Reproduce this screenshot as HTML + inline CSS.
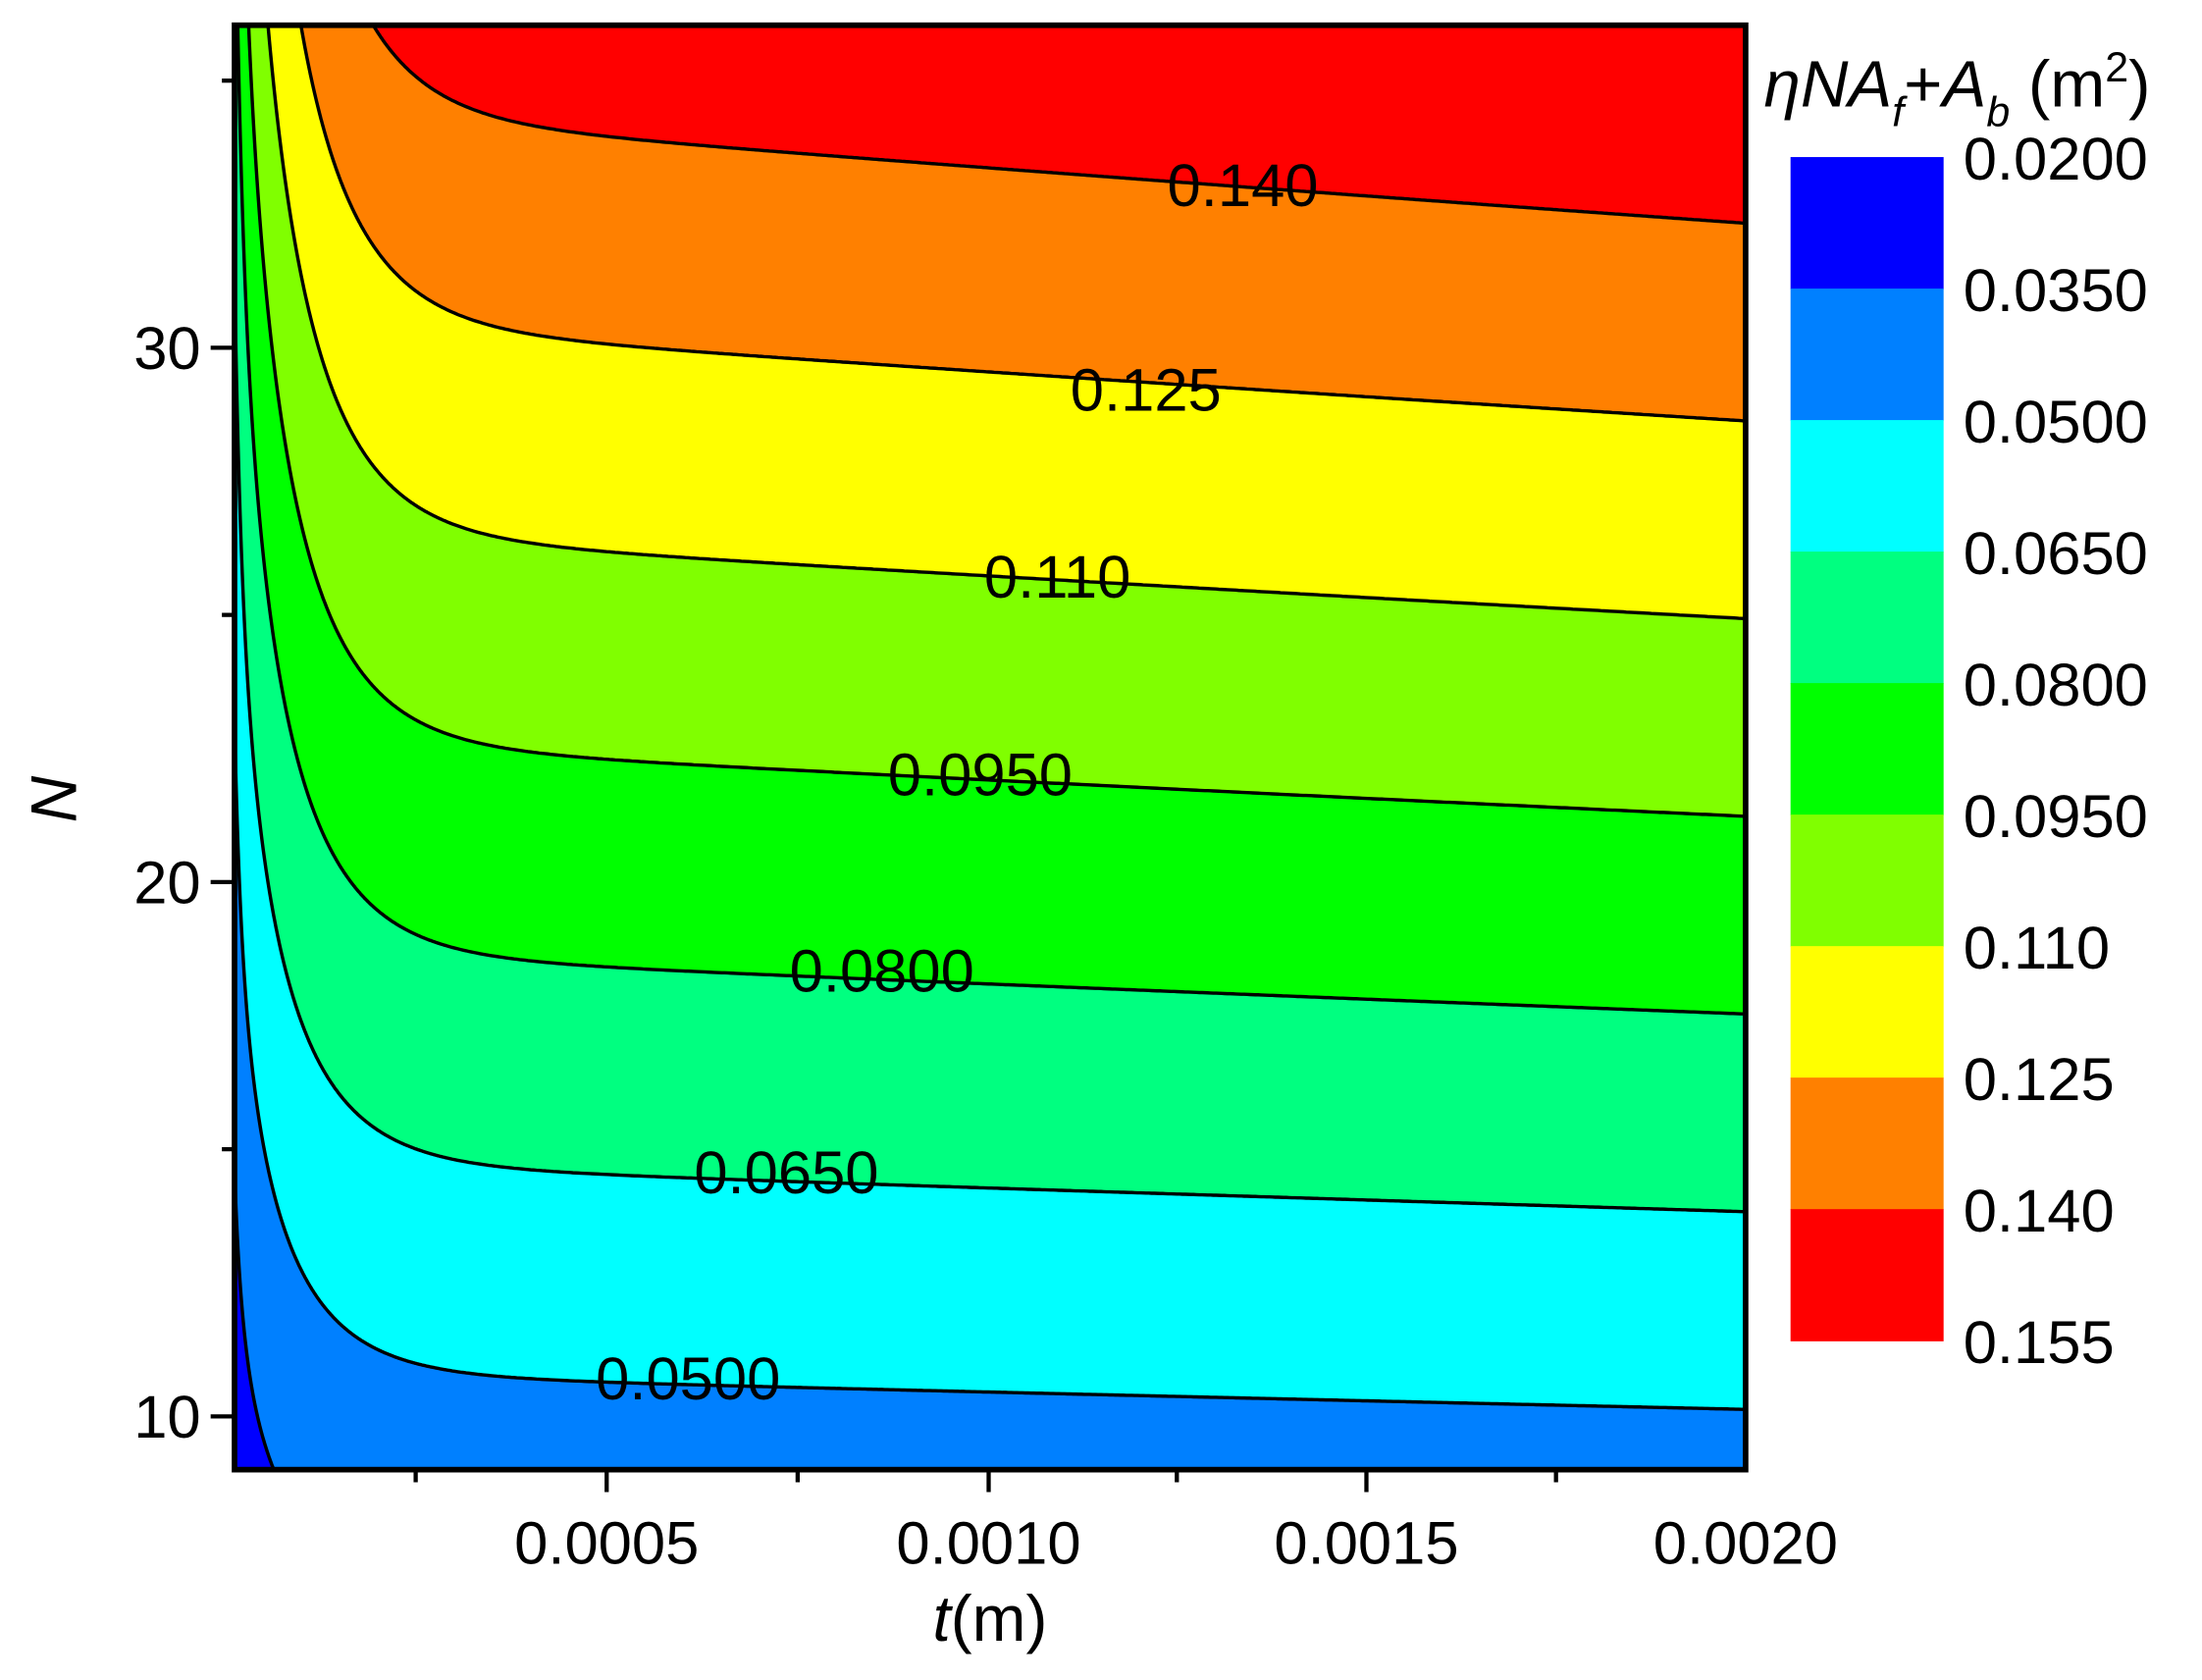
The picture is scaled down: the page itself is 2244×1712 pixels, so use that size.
<!DOCTYPE html>
<html><head><meta charset="utf-8"><style>
html,body{margin:0;padding:0;background:#fff;}
svg{display:block;}
text{font-family:"Liberation Sans",Arial,sans-serif;fill:#000;}
</style></head><body>
<svg id="s" width="2244" height="1712" viewBox="0 0 1568 1198" preserveAspectRatio="none" xmlns="http://www.w3.org/2000/svg">
<defs><clipPath id="cp"><rect x="167" y="18" width="1076" height="1030"/></clipPath></defs>
<g clip-path="url(#cp)"><rect x="167" y="18" width="1076" height="1030" fill="#ff0000"/><g id="fills"></g><g id="lines" fill="none" stroke="#000" stroke-width="2.4"></g></g>
<g id="labels" font-size="43" text-anchor="middle"></g>
<rect x="167" y="18" width="1076" height="1030" fill="none" stroke="#000" stroke-width="4"/>
<g id="ticks" stroke="#000" stroke-width="3"></g>
<g font-size="43" text-anchor="end">
<text x="143" y="1025">10</text><text x="143" y="644">20</text><text x="143" y="263">30</text>
</g>
<g font-size="43" text-anchor="middle">
<text x="432" y="1115">0.0005</text><text x="704" y="1115">0.0010</text><text x="973" y="1115">0.0015</text><text x="1243" y="1115">0.0020</text>
</g>
<text x="705" y="1170" font-size="46" text-anchor="middle"><tspan font-style="italic">t</tspan>(m)</text>
<text transform="translate(54,570) rotate(-90)" font-size="46" font-style="italic" text-anchor="middle">N</text>
<g id="cbar"></g>
<text x="1256" y="76" font-size="47"><tspan font-style="italic">ηNA</tspan><tspan font-style="italic" font-size="30" dy="14">f</tspan><tspan dy="-14">+</tspan><tspan font-style="italic">A</tspan><tspan font-style="italic" font-size="30" dy="14">b</tspan><tspan dy="-14"> (m</tspan><tspan font-size="30" dy="-18">2</tspan><tspan dy="18">)</tspan></text>
</svg>
<script>
(function(){
var NS="http://www.w3.org/2000/svg";
function el(p,n,a,t){var e=document.createElementNS(NS,n);for(var k in a)e.setAttribute(k,a[k]);if(t)e.textContent=t;p.appendChild(e);return e;}
function d(x){var dx=x-167;return 1-0.08*Math.exp(-dx/6)-0.418*Math.exp(-dx/45)-0.062*(1243-x)/1076;}
var G=0.004054,h=0.00893;
function Y(N){return 1010-(N-10)*38.1;}
var levels=[[0.140,"#ff8000"],[0.125,"#ffff00"],[0.110,"#80ff00"],[0.095,"#00ff00"],[0.080,"#00ff80"],[0.065,"#00ffff"],[0.050,"#0080ff"],[0.035,"#0000ff"]];
var fills=document.getElementById("fills"),lines=document.getElementById("lines");
levels.forEach(function(L){
  var pts=[];
  for(var x=167;x<=1243;x+=(x<320?0.5:2)){var N=(L[0]-h)/(G*d(x));var y=Y(N);if(y<-300)y=-300;if(y>1100)y=1100;pts.push(x+","+y.toFixed(1));}
  el(fills,"polygon",{points:pts.join(" ")+" 1243,1100 167,1100",fill:L[1]});
  el(lines,"polyline",{points:pts.join(" ")});
});
var lab=document.getElementById("labels");
[["0.140",885,132],["0.125",816,278],["0.110",753,411],["0.0950",698,552],["0.0800",628,692],["0.0650",560,836],["0.0500",490,983]].forEach(function(a){
  el(lab,"text",{x:a[1],y:a[2]+15},a[0]);
});
var tk=document.getElementById("ticks");
[1010,629,248].forEach(function(y){el(tk,"line",{x1:150,y1:y,x2:167,y2:y});});
[819.5,438.5,57.5].forEach(function(y){el(tk,"line",{x1:158,y1:y,x2:167,y2:y});});
[432,704,973].forEach(function(x){el(tk,"line",{x1:x,y1:1048,x2:x,y2:1064});});
[296,568,838,1108].forEach(function(x){el(tk,"line",{x1:x,y1:1048,x2:x,y2:1057});});
var cb=document.getElementById("cbar");
var cols=["#0000ff","#0080ff","#00ffff","#00ff80","#00ff00","#80ff00","#ffff00","#ff8000","#ff0000"];
var labs=["0.0200","0.0350","0.0500","0.0650","0.0800","0.0950","0.110","0.125","0.140","0.155"];
var y0=112,hh=(956-112)/9;
cols.forEach(function(c,i){el(cb,"rect",{x:1275,y:y0+i*hh,width:109,height:hh+0.5,fill:c});});
labs.forEach(function(t,i){el(cb,"text",{x:1398,y:y0+i*hh+16,"font-size":43},t);});
})();
</script>
</body></html>
